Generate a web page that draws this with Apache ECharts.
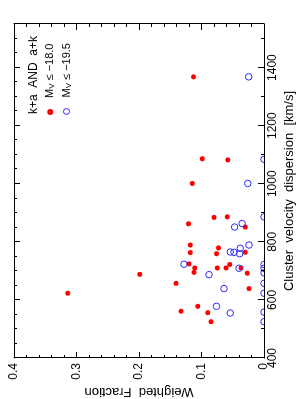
<!DOCTYPE html>
<html><head><meta charset="utf-8">
<script src="https://cdn.jsdelivr.net/npm/echarts@6/dist/echarts.min.js"></script>
<style>
html,body{margin:0;padding:0;width:298px;height:399px;overflow:hidden;background:#fff}
#c{position:absolute;left:0;top:0;width:399px;height:298px;transform-origin:0 0;transform:translate(0,399px) rotate(-90deg);}
</style></head><body><div id="c"></div>
<script>
// Data: cluster velocity dispersion (km/s) and weighted fraction
const redVelocity = [1368,1086,1082,1001,884,886,862,851,789,779,763,759,764,724,722,710,695,710,710,710,692,657,639,578,561,556,525,688,623];
const redFraction = [0.113,0.099,0.058,0.115,0.080,0.059,0.121,0.030,0.118,0.073,0.118,0.076,0.030,0.120,0.055,0.111,0.112,0.075,0.061,0.037,0.027,0.141,0.024,0.106,0.133,0.090,0.085,0.199,0.314];
const blueVelocity = [1368,1001,863,851,789,778,765,764,759,723,709,687,639,578,555,1084,886,722,709,693,657,623,558,525];
const blueFraction = [0.0245,0.026,0.035,0.047,0.024,0.038,0.054,0.048,0.039,0.128,0.040,0.088,0.064,0.076,0.054,0,0,0,0,0,0,0,0,0];
const velocityMajorTicks = 200, velocityMinorBottom = 100, velocityMinorTop = 50;
const fractionMajorTicks = 0.1, fractionMinorTicks = 0.02;
const seriesNames = ['red','blue'];
const legendLabels = {red:'\u221218.0', blue:'\u221219.5'};

const FONT = "'Liberation Sans', Arial, Helvetica, sans-serif";
const G = {left:41, right:24, top:14, bottom:34};
const W = 399, H = 298;

function xAx(pos, interval, len, line, label, extra) {
  return Object.assign({
    type:'value', min:400, max:1550, interval:interval, position:pos, z:10, nameMoveOverlap:false,
    axisLine:{show:line, onZero:false, lineStyle:{color:'#000', width:1}},
    axisTick:{show:true, inside:true, length:len, lineStyle:{color:'#000', width:1}},
    axisLabel:{show:label, margin:3, color:'#000', fontSize:12, fontFamily:FONT, showMaxLabel:false,
      formatter:function(v){return String(v);}},
    splitLine:{show:false}
  }, extra||{});
}
function yAx(pos, interval, len, line, label, extra) {
  return Object.assign({
    type:'value', min:0, max:0.4, interval:interval, position:pos, z:10, nameMoveOverlap:false,
    axisLine:{show:line, onZero:false, lineStyle:{color:'#000', width:1}},
    axisTick:{show:true, inside:true, length:len, lineStyle:{color:'#000', width:1}},
    axisLabel:{show:label, margin:5, color:'#000', fontSize:12, fontFamily:FONT},
    splitLine:{show:false}
  }, extra||{});
}
function leg(name, top, style) {
  const l = {
    data:[name], orient:'vertical', left:284, top:top, padding:0,
    itemWidth:6, itemHeight:6, selectedMode:false, icon:'circle',
    formatter:function(n){ return '{m|M}{s|V}{m| \u2264 ' + legendLabels[n] + '}'; },
    textStyle:{color:'#000', fontFamily:FONT, padding:[0,0,0,6], rich:{
      m:{fontSize:11, lineHeight:12, color:'#000', fontFamily:FONT},
      s:{fontSize:8, lineHeight:12, verticalAlign:'bottom', color:'#000', fontFamily:FONT}
    }}
  };
  if (style) l.itemStyle = style;
  return l;
}

const chart = echarts.init(document.getElementById('c'), null, {width:W, height:H});
chart.setOption({
  animation:false,
  backgroundColor:'#fff',
  grid:{left:G.left, right:G.right, top:G.top, bottom:G.bottom, containLabel:false, outerBoundsMode:'none'},
  title:{text:'k+a  AND  a+k', left:285, top:28, padding:0,
    textStyle:{fontSize:12, fontWeight:'normal', color:'#000', fontFamily:FONT}},
  legend:[
    leg('red', 44.7, null),
    leg('blue', 61, {borderWidth:1})
  ],
  xAxis:[
    xAx('bottom', velocityMajorTicks, 6, true, true, {name:'Cluster  velocity  dispersion  [km/s]', nameLocation:'middle', nameGap:19,
      nameTextStyle:{fontSize:13, color:'#000', fontFamily:FONT}}),
    xAx('bottom', velocityMinorBottom, 3, false, false),
    xAx('top', velocityMajorTicks, 6, true, false),
    xAx('top', velocityMinorTop, 3, false, false)
  ],
  yAxis:[
    yAx('left', fractionMajorTicks, 6, true, true, {name:'Weighted  Fraction', nameLocation:'middle', nameGap:27,
      nameTextStyle:{fontSize:13, color:'#000', fontFamily:FONT}}),
    yAx('left', fractionMinorTicks, 3, false, false),
    yAx('right', fractionMajorTicks, 6, true, false),
    yAx('right', fractionMinorTicks, 3, false, false)
  ],
  graphic:[{type:'rect', silent:true, z:5,
    shape:{x:G.left, y:H-G.bottom+0.5, width:W-G.left-G.right, height:4.5}, style:{fill:'#fff'}}],
  series:[
    {name:'red', type:'scatter', xAxisIndex:0, yAxisIndex:0, symbol:'circle', symbolSize:5, z:2,
      itemStyle:{color:'#ff0000', opacity:1}, data:redVelocity.map((v,i)=>[v, redFraction[i]])},
    {name:'blue', type:'scatter', xAxisIndex:0, yAxisIndex:0, symbol:'circle', symbolSize:6.5, z:2,
      itemStyle:{color:'rgba(255,255,255,0)', borderColor:'#2a2aff', borderWidth:1, opacity:1},
      data:blueVelocity.map((v,i)=>[v, blueFraction[i]])}
  ]
});
</script></body></html>
